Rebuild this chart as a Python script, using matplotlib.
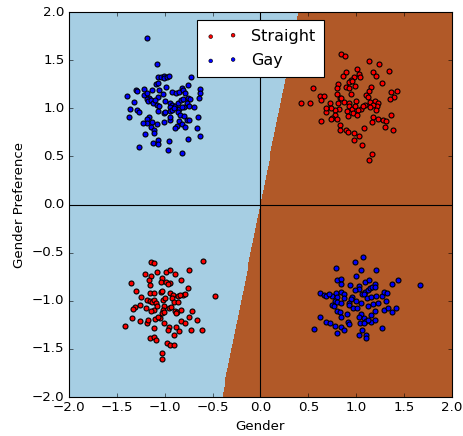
import numpy as np
import matplotlib
matplotlib.use("Agg")
import matplotlib.pyplot as plt

# points: (gender, gender preference)
straight_top = [
    (0.84, 1.56), (0.88, 1.54), (1.13, 1.49), (1.24, 1.46), (1.34, 1.39), (1.01, 1.41),
    (0.89, 1.38), (0.86, 1.34), (1.03, 1.36), (0.98, 1.32), (1.04, 1.32), (1.18, 1.38),
    (1.21, 1.34), (0.95, 1.29), (0.93, 1.27), (0.96, 1.28), (0.81, 1.25), (0.80, 1.21),
    (0.89, 1.22), (0.93, 1.21), (0.99, 1.23), (1.27, 1.26), (0.55, 1.21), (1.15, 1.22),
    (1.13, 1.18), (0.95, 1.15), (0.83, 1.11), (0.80, 1.15), (1.10, 1.14), (1.12, 1.12),
    (1.36, 1.17), (1.43, 1.18), (1.40, 1.12), (1.35, 1.10), (0.62, 1.13), (0.66, 1.13),
    (0.63, 1.09), (0.42, 1.05), (0.52, 1.05), (0.73, 1.05), (0.81, 1.06), (0.87, 1.07),
    (0.84, 1.11), (0.92, 1.05), (0.93, 1.02), (1.00, 1.08), (1.14, 1.07), (1.20, 1.08),
    (1.23, 1.05), (1.22, 1.02), (1.18, 1.03), (1.09, 1.03), (1.14, 1.01), (1.05, 0.99),
    (1.02, 0.98), (0.96, 0.99), (0.97, 0.95), (1.01, 0.93), (0.90, 0.97), (0.82, 0.99),
    (0.78, 0.98), (0.74, 1.00), (0.68, 0.96), (0.69, 1.00), (0.78, 0.93), (0.75, 0.90),
    (0.80, 0.89), (0.74, 0.89), (0.91, 0.92), (1.18, 0.91), (1.23, 0.89), (1.28, 0.88),
    (1.31, 0.87), (1.17, 0.86), (1.36, 0.93), (0.63, 0.87), (0.83, 0.83), (0.89, 0.77),
    (0.91, 0.75), (1.08, 0.79), (0.98, 0.74), (1.03, 0.71), (0.83, 0.77), (0.98, 0.67),
    (1.06, 0.62), (1.30, 0.81), (1.39, 0.77), (1.17, 0.52), (1.13, 0.46), (1.21, 0.98),
    (1.07, 1.02), (0.99, 1.02),
]
straight_bottom = [
    (-1.14, -0.60), (-1.11, -0.61), (-0.60, -0.59), (-1.21, -0.72), (-1.14, -0.74),
    (-1.08, -0.70), (-0.99, -0.70), (-0.94, -0.68), (-0.89, -0.72), (-0.75, -0.68),
    (-1.16, -0.78), (-1.03, -0.76), (-0.83, -0.78), (-1.35, -0.82), (-1.15, -0.84),
    (-1.04, -0.81), (-0.99, -0.81), (-0.94, -0.82), (-0.97, -0.83), (-0.76, -0.87),
    (-1.30, -0.90), (-1.15, -0.92), (-1.11, -0.92), (-1.04, -0.91), (-1.03, -0.90),
    (-0.94, -0.92), (-0.91, -0.94), (-0.86, -0.95), (-0.81, -0.94), (-0.79, -0.93),
    (-0.84, -0.94), (-0.47, -0.95), (-1.25, -0.96), (-1.18, -0.99), (-1.15, -1.00),
    (-1.13, -1.01), (-1.11, -0.99), (-1.09, -1.02), (-1.02, -0.99), (-1.00, -0.97),
    (-0.92, -0.97), (-0.90, -1.01), (-0.86, -1.01), (-1.31, -1.06), (-1.33, -1.09),
    (-1.26, -1.04), (-1.20, -1.08), (-1.11, -1.10), (-1.08, -1.05), (-1.01, -1.05),
    (-1.02, -1.10), (-0.95, -1.08), (-0.93, -1.06), (-0.89, -1.11), (-0.87, -1.12),
    (-0.83, -1.10), (-0.72, -1.11), (-1.34, -1.18), (-1.26, -1.21), (-1.19, -1.23),
    (-1.17, -1.20), (-1.10, -1.19), (-1.05, -1.18), (-1.01, -1.23), (-1.11, -1.28),
    (-1.41, -1.26), (-0.96, -1.27), (-0.97, -1.30), (-0.88, -1.27), (-0.85, -1.31),
    (-0.83, -1.21), (-0.79, -1.23), (-0.75, -1.17), (-0.66, -1.20), (-0.73, -1.30),
    (-0.61, -1.30), (-1.15, -1.39), (-1.11, -1.38), (-1.09, -1.41), (-0.90, -1.36),
    (-0.98, -1.44), (-0.94, -1.46), (-0.90, -1.46), (-1.03, -1.54), (-1.03, -1.60),
    (-1.07, -1.17), (-0.88, -1.13), (-1.14, -1.11), (-1.03, -1.13), (-1.01, -1.12),
]
gay_top = [
    (-1.18, 1.73), (-1.08, 1.46), (-1.07, 1.33), (-1.04, 1.32), (-1.01, 1.34), (-1.01, 1.31),
    (-0.98, 1.33), (-0.96, 1.34), (-0.73, 1.33), (-1.09, 1.25), (-1.07, 1.26), (-0.99, 1.22),
    (-0.76, 1.24), (-1.30, 1.19), (-1.29, 1.18), (-1.22, 1.20), (-1.13, 1.19), (-1.06, 1.19),
    (-1.39, 1.13), (-1.22, 1.14), (-1.18, 1.16), (-1.16, 1.11), (-1.07, 1.12), (-1.02, 1.15),
    (-0.92, 1.17), (-0.88, 1.16), (-0.85, 1.17), (-0.82, 1.21), (-0.81, 1.19), (-0.79, 1.16),
    (-0.63, 1.20), (-0.63, 1.16), (-0.64, 1.11), (-1.32, 1.07), (-1.19, 1.10), (-1.17, 1.08),
    (-1.14, 1.09), (-1.12, 1.05), (-1.10, 1.09), (-1.08, 1.03), (-1.06, 1.02), (-1.00, 1.08),
    (-0.94, 1.06), (-0.92, 1.03), (-0.94, 1.01), (-0.89, 1.02), (-0.86, 1.05), (-0.83, 1.09),
    (-0.81, 1.10), (-0.76, 1.11), (-0.74, 1.10), (-0.77, 1.06), (-0.75, 1.02), (-0.80, 1.01),
    (-0.85, 0.99), (-0.69, 1.01), (-1.36, 0.99), (-1.29, 0.98), (-1.27, 0.96), (-1.07, 0.97),
    (-1.01, 0.95), (-1.00, 0.96), (-0.94, 0.97), (-0.92, 0.98), (-0.90, 1.00), (-0.86, 0.96),
    (-0.82, 1.01), (-1.16, 0.91), (-1.18, 0.89), (-1.19, 0.85), (-1.23, 0.85), (-1.13, 0.86),
    (-1.08, 0.84), (-1.01, 0.86), (-0.94, 0.88), (-0.94, 0.91), (-0.84, 0.93), (-0.80, 0.92),
    (-0.77, 0.88), (-0.75, 0.88), (-0.85, 0.87), (-0.82, 0.84), (-0.79, 0.81), (-0.87, 0.82),
    (-0.89, 0.79), (-1.37, 0.91), (-0.65, 0.91), (-0.66, 0.80), (-0.63, 0.71), (-1.14, 0.81),
    (-1.11, 0.77), (-1.11, 0.74), (-1.21, 0.73), (-1.07, 0.67), (-1.12, 0.64), (-1.07, 0.63),
    (-0.96, 0.66), (-0.76, 0.68), (-1.27, 0.60), (-0.97, 0.57), (-0.82, 0.54),
]
gay_bottom = [
    (1.07, -0.54), (0.99, -0.60), (0.79, -0.66), (1.05, -0.68), (1.21, -0.68), (1.00, -0.74),
    (0.80, -0.78), (0.84, -0.77), (1.09, -0.80), (1.13, -0.78), (0.84, -0.83), (0.94, -0.84),
    (1.03, -0.85), (1.03, -0.88), (0.99, -0.89), (1.09, -0.91), (1.12, -0.89), (1.14, -0.87),
    (1.17, -0.86), (1.20, -0.83), (1.20, -0.86), (1.44, -0.78), (1.37, -0.83), (1.67, -0.84),
    (0.62, -0.92), (0.66, -0.94), (0.68, -0.95), (0.75, -0.95), (0.79, -0.92), (0.80, -0.96),
    (0.84, -0.91), (0.87, -0.93), (0.87, -0.97), (0.96, -0.96), (0.95, -0.98), (0.92, -1.02),
    (0.93, -1.04), (1.06, -0.93), (1.08, -0.93), (1.11, -0.97), (1.16, -0.96), (1.21, -0.95),
    (1.27, -0.95), (1.29, -0.91), (1.32, -0.92), (0.78, -1.00), (0.75, -1.04), (0.77, -1.05),
    (0.80, -1.01), (0.84, -1.02), (1.05, -1.02), (1.12, -1.05), (1.18, -1.03), (1.23, -1.02),
    (1.31, -1.00), (0.97, -1.08), (1.01, -1.08), (0.80, -1.11), (0.83, -1.12), (0.90, -1.14),
    (0.84, -1.17), (1.05, -1.14), (1.03, -1.17), (1.08, -1.18), (1.10, -1.21), (1.15, -1.22),
    (1.20, -1.20), (1.20, -1.11), (1.29, -1.10), (1.33, -1.07), (1.37, -1.12), (1.42, -1.07),
    (0.62, -1.17), (0.69, -1.22), (0.73, -1.23), (0.78, -1.26), (0.84, -1.27), (0.87, -1.30),
    (0.91, -1.22), (0.92, -1.24), (1.06, -1.30), (1.27, -1.28), (0.56, -1.29), (0.80, -1.33),
    (1.03, -1.36), (1.10, -1.36), (1.10, -1.39), (1.04, -1.23), (1.16, -1.15), (1.00, -1.00),
    (0.72, -0.93), (1.12, -1.20), (1.08, -1.23),
]

# linear decision boundary: gender = boundary_slope * preference
boundary_slope = 0.2
labels = ["Straight", "Gay"]

straight = np.array(straight_top + straight_bottom)
gay = np.array(gay_top + gay_bottom)

plt.style.use("classic")
fig = plt.figure(figsize=(463 / 80, 436 / 80), dpi=80)
ax = fig.add_axes([0.149, 0.0894, 0.827, 0.883])

xx, yy = np.meshgrid(np.arange(-2, 2.005, 0.01), np.arange(-2, 2.005, 0.01))
zz = (xx - boundary_slope * yy > 0).astype(float)
ax.pcolormesh(xx, yy, zz, cmap=plt.cm.Paired, vmin=0, vmax=1, shading="auto")

ax.axhline(0, color="k", lw=1)
ax.axvline(0, color="k", lw=1)

ax.scatter(straight[:, 0], straight[:, 1], c="r", s=20, edgecolors="k", label=labels[0], zorder=3)
ax.scatter(gay[:, 0], gay[:, 1], c="b", s=20, edgecolors="k", label=labels[1], zorder=3)

ax.set_xlim(-2, 2)
ax.set_ylim(-2, 2)
ax.set_xticks(np.arange(-2, 2.01, 0.5))
ax.set_yticks(np.arange(-2, 2.01, 0.5))
ax.set_xlabel("Gender")
ax.set_ylabel("Gender Preference")
leg = ax.legend(loc="upper center", scatterpoints=2, fontsize=14.4, markerscale=0.75,
                labelspacing=0.58, borderpad=0.55)
for h in leg.legend_handles:
    h.set_linewidth(0.5)

fig.savefig("out.png", dpi=80)
